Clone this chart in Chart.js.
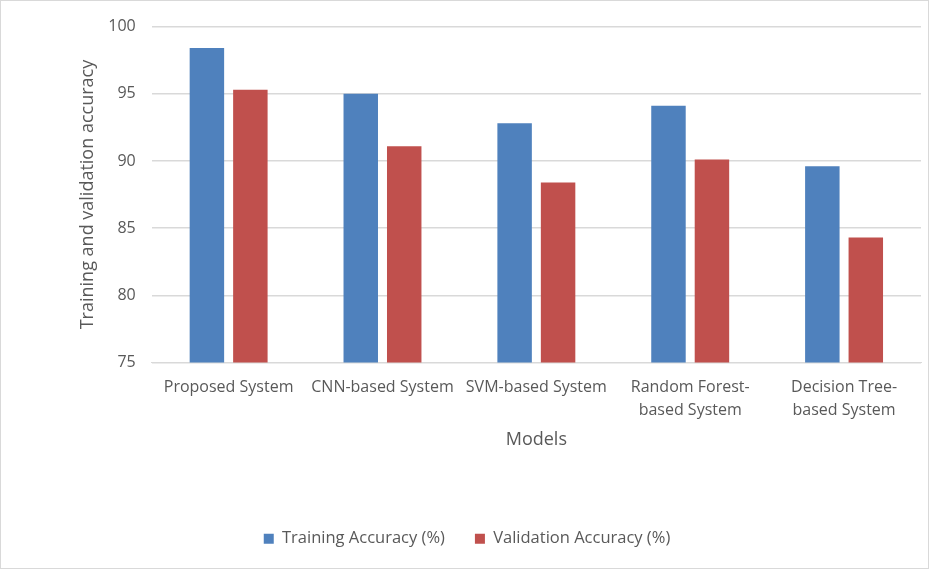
<!DOCTYPE html>
<html>
<head>
<meta charset="utf-8">
<script src="https://cdn.jsdelivr.net/npm/chart.js@4"></script>
<style>
  html, body { margin: 0; padding: 0; background: #fff; }
  #wrap { position: relative; width: 927px; height: 567px; border: 1px solid #d9d9d9; }
</style>
</head>
<body>
<div id="wrap"><canvas id="c"></canvas></div>
<script>
const categories = ["Proposed System", "CNN-based System", "SVM-based System", ["Random Forest-", "based System"], ["Decision Tree-", "based System"]];
const trainingAccuracy = [98.4, 95.0, 92.8, 94.1, 89.6];
const validationAccuracy = [95.3, 91.1, 88.4, 90.1, 84.3];
const yTicks = [75, 80, 85, 90, 95, 100];

const FONT = "'Open Sans', sans-serif";
const TXT = "#595959";

const legendShift = {
  id: "legendShift",
  afterLayout(chart) {
    if (chart.legend) { chart.legend.left += 6; chart.legend.right += 6; }
  }
};

new Chart(document.getElementById("c"), {
  type: "bar",
  data: {
    labels: categories,
    datasets: [
      { label: "Training Accuracy (%)", data: trainingAccuracy, backgroundColor: "#4f81bd", barPercentage: 0.793, categoryPercentage: 0.565 },
      { label: "Validation Accuracy (%)", data: validationAccuracy, backgroundColor: "#c0504d", barPercentage: 0.793, categoryPercentage: 0.565 }
    ]
  },
  plugins: [legendShift],
  options: {
    responsive: true,
    maintainAspectRatio: false,
    animation: false,
    layout: { padding: { left: 0, right: 7, top: 24, bottom: 11 } },
    plugins: {
      legend: {
        position: "bottom",
        labels: { font: { family: FONT, size: 16.5 }, color: TXT, boxWidth: 10, boxHeight: 10, padding: 30 }
      },
      tooltip: { enabled: false }
    },
    scales: {
      x: {
        grid: { display: false },
        border: { display: true, color: "#d9d9d9" },
        ticks: { font: { family: FONT, size: 16, lineHeight: 1.45 }, color: TXT, maxRotation: 0, autoSkip: false, padding: 5 },
        title: { display: true, text: "Models", font: { family: FONT, size: 18 }, color: TXT, padding: { top: 2, bottom: 50 } }
      },
      y: {
        min: 75, max: 100,
        afterBuildTicks: (axis) => { axis.ticks = yTicks.map(v => ({ value: v })); },
        afterFit: (scale) => { scale.width = 150.7; },
        grid: { color: "#d9d9d9", lineWidth: 1.5, drawTicks: false },
        border: { display: false },
        ticks: { font: { family: FONT, size: 16 }, color: TXT, padding: 16 },
        title: { display: true, text: "Training and validation accuracy", font: { family: FONT, size: 18 }, color: TXT, padding: { top: 76, bottom: 0 } }
      }
    }
  }
});
</script>
</body>
</html>
